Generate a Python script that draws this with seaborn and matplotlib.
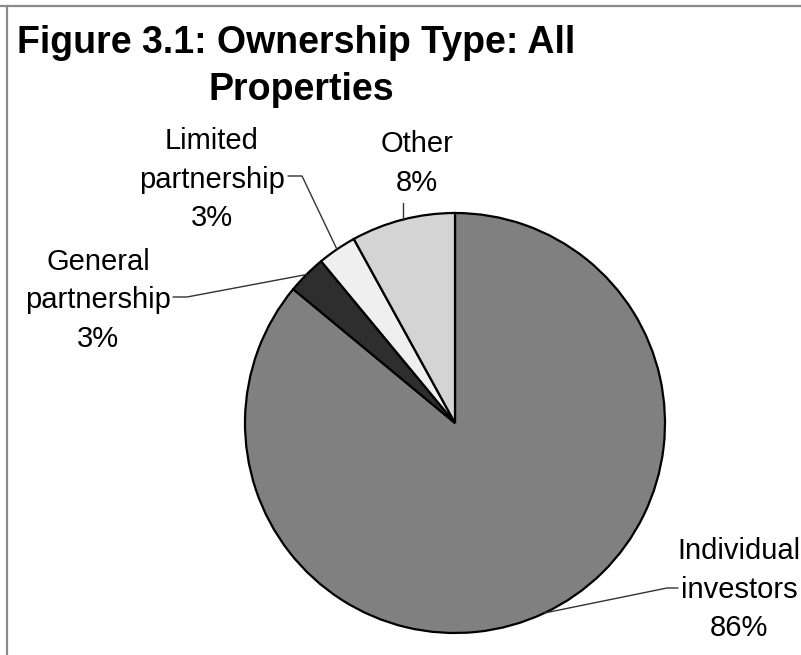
import numpy as np
import matplotlib
matplotlib.use("Agg")
import matplotlib.pyplot as plt
from matplotlib.lines import Line2D
import seaborn as sns

# Ownership shares, drawn clockwise from 12 o'clock
categories = ["Individual\ninvestors", "General\npartnership", "Limited\npartnership", "Other"]
shares = [86, 3, 3, 8]
slice_colors = ["#808080", "#2e2e2e", "#efefef", "#d4d4d4"]

title_lines = ["Figure 3.1: Ownership Type: All", "Properties"]

sns.set_theme(style="white")
plt.rcParams["font.family"] = ["Liberation Sans", "DejaVu Sans"]

W, H = 801, 655
fig = plt.figure(figsize=(W / 100, H / 100), dpi=100, facecolor="white")


def fx(x):
    return x / W


def fy(y):
    return 1 - y / H


# Pie placement (pixels, measured from top-left)
cx, cy, rad = 455, 423, 210
lim = 1.08
side = 2 * lim * rad
ax = fig.add_axes([fx(cx - side / 2), fy(cy + side / 2), side / W, side / H])

wedges, _ = ax.pie(
    shares,
    colors=slice_colors,
    startangle=90,
    counterclock=False,
    radius=1.0,
    wedgeprops=dict(edgecolor="black", linewidth=1.6),
)
ax.set_xlim(-lim, lim)
ax.set_ylim(-lim, lim)
ax.set_axis_off()

# Title
fig.text(fx(296), fy(53), title_lines[0], ha="center", va="baseline",
         fontsize=27, fontweight="bold", color="black")
fig.text(fx(301), fy(100), title_lines[1], ha="center", va="baseline",
         fontsize=27, fontweight="bold", color="black")

# Label blocks: centre x and first baseline (pixels)
label_anchor = [(739, 559), (98, 270), (212, 149), (417, 152)]
# Leader elbows and ends (pixels)
leader_path = [
    [(667, 588), (678, 588)],
    [(187, 297), (173, 297)],
    [(302, 176), (288, 176)],
    [(None, 203)],
]
line_step = 38.5
label_size = 21

fig.canvas.draw()
to_px = ax.transData
for w, name, val, (lx, ly), path in zip(wedges, categories, shares, label_anchor, leader_path):
    lines = name.split("\n") + [f"{val}%"]
    for i, t in enumerate(lines):
        fig.text(fx(lx), fy(ly + i * line_step), t, ha="center", va="baseline",
                 fontsize=label_size, color="black")

    mid = np.deg2rad((w.theta1 + w.theta2) / 2)
    ex, ey = to_px.transform((np.cos(mid), np.sin(mid)))
    ey = H - ey
    pts = [(ex, ey)]
    for px, py in path:
        pts.append((ex if px is None else px, py))
    xs = [fx(p[0]) for p in pts]
    ys = [fy(p[1]) for p in pts]
    fig.add_artist(Line2D(xs, ys, color="#333333", linewidth=1.0,
                          transform=fig.transFigure))

# Frame lines along the top and left edges
fig.add_artist(Line2D([0, 1], [fy(6), fy(6)], color="#8a8a8a", linewidth=1.6,
                      transform=fig.transFigure))
fig.add_artist(Line2D([fx(7), fx(7)], [fy(6), 0], color="#8a8a8a", linewidth=1.6,
                      transform=fig.transFigure))

fig.savefig("out.png", dpi=100, facecolor="white")
